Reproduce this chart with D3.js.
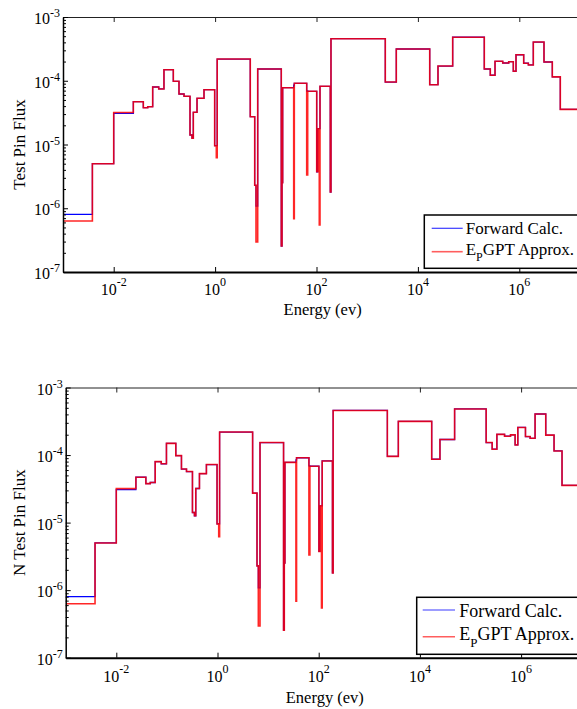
<!DOCTYPE html>
<html><head><meta charset="utf-8">
<script src="https://cdn.jsdelivr.net/npm/d3@7"></script>
<style>
html,body{margin:0;padding:0;background:#fff;overflow:hidden;}
svg{display:block;font-family:"Liberation Serif","Times New Roman",serif;}
</style></head><body>
<svg id="c" width="577" height="709"></svg>
<script>
// ---- data (energy group boundaries in eV, group flux values) ----
const edges = [1e-3, 3.8e-3, 0.01, 0.0244, 0.0384, 0.0469, 0.0587, 0.0773, 0.098, 0.150,
  0.194, 0.244, 0.320, 0.350, 0.372, 0.440, 0.604, 0.98, 1.057, 1.10,
  4.94, 6.04, 6.41, 6.92, 20.2, 20.9, 21.5, 35.5, 36.5, 64.1,
  67.0, 100.9, 105.6, 113.5, 117.2, 187, 193, 2275, 3750, 17100,
  24900, 48500, 2.04e5, 2.68e5, 3.32e5, 4.71e5, 6.18e5, 7.62e5, 8.61e5, 1.22e6,
  1.51e6, 1.89e6, 3.07e6, 4.48e6, 6.44e6, 2e7];
const forward = [8.0e-7, 5.0e-6, 3.08e-5, 4.69e-5, 3.78e-5, 3.92e-5, 7.98e-5, 7.43e-5, 1.49e-4, 9.8e-5,
  6.2e-5, 5.7e-5, 1.41e-5, 1.26e-5, 3.2e-5, 5.31e-5, 7.24e-5, 9.58e-6, 9.58e-6, 2.19e-4,
  2.73e-5, 2.29e-6, 1.08e-6, 1.53e-4, 2.56e-7, 2.52e-6, 7.78e-5, 8.5e-5, 9.12e-5, 6.9e-5,
  6.83e-5, 3.74e-6, 1.77e-5, 1.77e-5, 8.18e-5, 1.80e-6, 4.57e-4, 9.55e-5, 3.15e-4, 8.67e-5,
  1.70e-4, 4.81e-4, 1.53e-4, 1.22e-4, 2.02e-4, 1.90e-4, 1.99e-4, 1.41e-4, 2.56e-4, 1.88e-4,
  1.77e-4, 4.05e-4, 1.97e-4, 1.15e-4, 3.56e-5];
const approx = [6.3e-7, 5.0e-6, 3.18e-5, 4.69e-5, 3.78e-5, 3.92e-5, 7.98e-5, 7.43e-5, 1.49e-4, 9.8e-5,
  6.2e-5, 5.7e-5, 1.41e-5, 1.26e-5, 3.2e-5, 5.31e-5, 7.24e-5, 9.58e-6, 6.21e-6, 2.19e-4,
  2.73e-5, 2.29e-6, 2.96e-7, 1.53e-4, 2.56e-7, 2.52e-6, 7.78e-5, 6.86e-7, 9.12e-5, 3.32e-6,
  6.83e-5, 3.74e-6, 1.77e-5, 5.46e-7, 8.18e-5, 1.80e-6, 4.57e-4, 9.55e-5, 3.15e-4, 8.67e-5,
  1.70e-4, 4.81e-4, 1.53e-4, 1.22e-4, 2.02e-4, 1.90e-4, 1.99e-4, 1.41e-4, 2.56e-4, 1.88e-4,
  1.77e-4, 4.05e-4, 1.97e-4, 1.15e-4, 3.56e-5];
const xTickValues = [1e-2, 1e0, 1e2, 1e4, 1e6];
const xTickExponents = ["-2", "0", "2", "4", "6"];
const yTickValues = [1e-7, 1e-6, 1e-5, 1e-4, 1e-3];
const yTickExponents = ["-7", "-6", "-5", "-4", "-3"];
const xDomain = [1e-3, 2e7];
const yDomain = [1e-7, 1e-3];
const panelTitles = ["Test Pin Flux", "N Test Pin Flux"];
const xTitle = "Energy (ev)";
const legendForward = "Forward Calc.";
const legendApproxMain = "E";
const legendApproxSub = "P";
const legendApproxRest = "GPT Approx.";

// ---- layout ----
const panels = [
  {left: 63, top: 17, bottom: 272, perDecade: 50.7, ytitle: panelTitles[0],
   tickBase: 23, titleBase: 42.5,
   leg: {x: 424.3, y: 215, h: 53.3, lx1: 431.7, lx2: 462.7, ly1: 228.3, ly2: 251.7, tx: 465.7, tb1: 234, tb2: 255.3, fs: 17, sfs: 12, sdy: 6}},
  {left: 65.7, top: 387.5, bottom: 657.7, perDecade: 50.6, ytitle: panelTitles[1],
   tickBase: 24.3, titleBase: 45,
   leg: {x: 416.7, y: 597.3, h: 57, lx1: 422.7, lx2: 455, ly1: 610, ly2: 636.7, tx: 459.3, tb1: 617.3, tb2: 640, fs: 18, sfs: 13, sdy: 7}}
];

const svg = d3.select("#c");
const minorTicks = [];
yTickValues.slice(0, -1).forEach(d => { for (let k = 2; k <= 9; k++) minorTicks.push(d * k); });

panels.forEach((p, pi) => {
  const right = p.left + p.perDecade * Math.log10(xDomain[1] / xDomain[0]);
  const x = d3.scaleLog().domain(xDomain).range([p.left, right]);
  const y = d3.scaleLog().domain(yDomain).range([p.bottom, p.top]);
  const g = svg.append("g");

  const cid = "clip" + pi;
  svg.append("clipPath").attr("id", cid).append("rect")
    .attr("x", p.left).attr("y", p.top - 2).attr("width", right - p.left).attr("height", p.bottom - p.top + 4);

  const line = d3.line().x(d => x(d[0])).y(d => y(d[1])).curve(d3.curveStepAfter);
  const pts = vals => edges.map((e, i) => [e, vals[Math.min(i, vals.length - 1)]]);

  g.append("path").attr("clip-path", `url(#${cid})`).attr("d", line(pts(forward)))
    .attr("fill", "none").attr("stroke", "#0000ff").attr("stroke-width", 1.3);
  g.append("path").attr("clip-path", `url(#${cid})`).attr("d", line(pts(approx)))
    .attr("fill", "none").attr("stroke", "#ff0000").attr("stroke-width", 1.6).attr("stroke-opacity", 0.85);

  // axes
  const bottomAxis = d3.axisBottom(x).tickValues(xTickValues).tickSizeInner(-5).tickSizeOuter(0).tickFormat(() => "");
  const gb = g.append("g").attr("transform", `translate(0,${p.bottom})`).call(bottomAxis);
  gb.select(".domain").attr("stroke", "#000").attr("stroke-width", 2);
  gb.selectAll(".tick line").attr("stroke", "#000").attr("stroke-width", 1);

  const topAxis = d3.axisTop(x).tickValues(xTickValues).tickSizeInner(-5).tickSizeOuter(0).tickFormat(() => "");
  const gt = g.append("g").attr("transform", `translate(0,${p.top})`).call(topAxis);
  gt.select(".domain").attr("stroke", "#222").attr("stroke-width", 1);
  gt.selectAll(".tick line").attr("stroke", "#222");

  const leftAxis = d3.axisLeft(y).tickValues(yTickValues).tickSizeInner(-5).tickSizeOuter(0).tickFormat(() => "");
  const gl = g.append("g").attr("transform", `translate(${p.left},0)`).call(leftAxis);
  gl.select(".domain").attr("stroke", "#000").attr("stroke-width", 1.5);
  gl.selectAll(".tick line").attr("stroke", "#000");
  const leftMinor = d3.axisLeft(y).tickValues(minorTicks).tickSizeInner(-3).tickSizeOuter(0).tickFormat(() => "");
  const gm = g.append("g").attr("transform", `translate(${p.left},0)`).call(leftMinor);
  gm.select(".domain").remove();
  gm.selectAll(".tick line").attr("stroke", "#000");

  // x tick labels
  xTickValues.forEach((v, i) => {
    const t = g.append("text").attr("x", x(v)).attr("y", p.bottom + p.tickBase)
      .attr("text-anchor", "middle").attr("font-size", 16).attr("fill", "#000");
    t.append("tspan").text("10");
    t.append("tspan").attr("dy", -9.5).attr("font-size", 12).text(xTickExponents[i]);
  });
  // y tick labels
  yTickValues.forEach((v, i) => {
    const t = g.append("text").attr("x", p.left - 3).attr("y", y(v) + 7)
      .attr("text-anchor", "end").attr("font-size", 16).attr("fill", "#000");
    t.append("tspan").text("10");
    t.append("tspan").attr("dy", -7).attr("font-size", 12).text(yTickExponents[i]);
  });

  // titles
  g.append("text").attr("x", (p.left + right) / 2 - 1.5).attr("y", p.bottom + p.titleBase)
    .attr("text-anchor", "middle").attr("font-size", 16.5).text(xTitle);
  g.append("text").attr("transform", `translate(25,${(p.top + p.bottom) / 2}) rotate(-90)`)
    .attr("text-anchor", "middle").attr("font-size", 17).text(p.ytitle);

  // legend
  const L = p.leg;
  g.append("rect").attr("x", L.x).attr("y", L.y).attr("width", 220).attr("height", L.h)
    .attr("fill", "#fff").attr("stroke", "#000").attr("stroke-width", 1.5);
  g.append("line").attr("x1", L.lx1).attr("x2", L.lx2).attr("y1", L.ly1).attr("y2", L.ly1)
    .attr("stroke", "#3a3aff").attr("stroke-width", 1.2);
  g.append("line").attr("x1", L.lx1).attr("x2", L.lx2).attr("y1", L.ly2).attr("y2", L.ly2)
    .attr("stroke", "#ff5e5e").attr("stroke-width", 1.6);
  g.append("text").attr("x", L.tx).attr("y", L.tb1).attr("font-size", L.fs).text(legendForward);
  const t2 = g.append("text").attr("x", L.tx).attr("y", L.tb2).attr("font-size", L.fs);
  t2.append("tspan").text(legendApproxMain);
  t2.append("tspan").attr("dy", L.sdy).attr("font-size", L.sfs).text(legendApproxSub);
  t2.append("tspan").attr("dy", -L.sdy).text(legendApproxRest);
});
</script>
</body></html>
